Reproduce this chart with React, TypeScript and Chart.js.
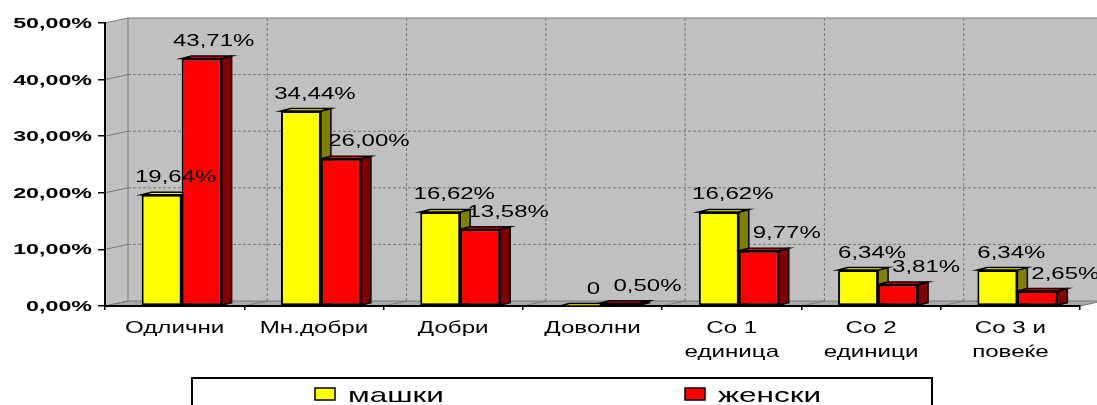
import React, { useEffect, useRef } from 'react';
import { Chart, registerables } from 'chart.js';

Chart.register(...registerables);

// ---------- data ----------
const CATEGORIES: string[][] = [
  ['Одлични'],
  ['Мн.добри'],
  ['Добри'],
  ['Доволни'],
  ['Со 1', 'единица'],
  ['Со 2', 'единици'],
  ['Со 3 и', 'повеќе'],
];
const SERIES_NAMES = ['машки', 'женски'];
const MALE = [19.64, 34.44, 16.62, 0, 16.62, 6.34, 6.34];
const FEMALE = [43.71, 26.0, 13.58, 0.5, 9.77, 3.81, 2.65];
const Y_MIN = 0;
const Y_MAX = 50;
const Y_STEP = 10;

// ---------- style ----------
const W = 1097;
const H = 405;
const FONT = '"Liberation Sans", Arial, Helvetica, sans-serif';
const WALL_DX = 23;
const WALL_DY = 5;
const BAR_DX = 10;
const BAR_DY = 2.5;
const GROUP_SHIFT = 7;
const C_WALL = '#C0C0C0';
const C_FLOOR = '#A8A8A8';
const C_GRID = '#7A7A7A';
const C_MALE = '#FFFF00';
const C_MALE_SIDE = '#808000';
const C_FEMALE = '#FF0000';
const C_FEMALE_SIDE = '#800000';

const fmtValue = (v: number) => (v === 0 ? '0' : v.toFixed(2).replace('.', ',') + '%');
const fmtAxis = (v: number) => v.toFixed(2).replace('.', ',') + '%';

function stretchText(
  ctx: CanvasRenderingContext2D,
  text: string,
  x: number,
  y: number,
  font: string,
  sx: number,
  align: CanvasTextAlign
) {
  ctx.save();
  ctx.font = font;
  ctx.fillStyle = '#000';
  ctx.textAlign = align;
  ctx.textBaseline = 'alphabetic';
  ctx.translate(x, y);
  ctx.scale(sx, 1);
  ctx.fillText(text, 0, 0);
  ctx.restore();
}

function poly(ctx: CanvasRenderingContext2D, pts: number[][], fill: string, stroke?: string, lw = 1) {
  ctx.beginPath();
  ctx.moveTo(pts[0][0], pts[0][1]);
  for (let i = 1; i < pts.length; i++) ctx.lineTo(pts[i][0], pts[i][1]);
  ctx.closePath();
  ctx.fillStyle = fill;
  ctx.fill();
  if (stroke) {
    ctx.strokeStyle = stroke;
    ctx.lineWidth = lw;
    ctx.stroke();
  }
}

function line(ctx: CanvasRenderingContext2D, x1: number, y1: number, x2: number, y2: number, dash: number[]) {
  ctx.beginPath();
  ctx.setLineDash(dash);
  ctx.moveTo(x1, y1);
  ctx.lineTo(x2, y2);
  ctx.stroke();
  ctx.setLineDash([]);
}

const threeD = {
  id: 'threeD',
  afterDatasetsUpdate(chart: any) {
    chart.data.datasets.forEach((_: any, i: number) => {
      chart.getDatasetMeta(i).data.forEach((el: any) => {
        el.x += GROUP_SHIFT;
      });
    });
  },
  beforeDraw(chart: any) {
    const ctx: CanvasRenderingContext2D = chart.ctx;
    const { left: L, right: R, top: T, bottom: B } = chart.chartArea;
    const ys = chart.scales.y;
    const xs = chart.scales.x;
    ctx.save();
    // side wall
    poly(ctx, [[L, T], [L + WALL_DX, T - WALL_DY], [L + WALL_DX, B - WALL_DY], [L, B]], C_WALL);
    // back wall
    poly(ctx, [[L + WALL_DX, T - WALL_DY], [R + WALL_DX, T - WALL_DY], [R + WALL_DX, B - WALL_DY], [L + WALL_DX, B - WALL_DY]], C_WALL);
    // floor
    poly(ctx, [[L, B], [R, B], [R + WALL_DX, B - WALL_DY], [L + WALL_DX, B - WALL_DY]], C_FLOOR);

    ctx.strokeStyle = C_GRID;
    ctx.lineWidth = 1;
    // horizontal grid lines
    ys.ticks.forEach((t: any) => {
      const py = ys.getPixelForValue(t.value);
      line(ctx, L, py, L + WALL_DX, py - WALL_DY, []);
      const solid = t.value === Y_MIN || t.value === Y_MAX;
      line(ctx, L + WALL_DX, py - WALL_DY, R + WALL_DX, py - WALL_DY, solid ? [] : [3, 2]);
    });
    // vertical grid lines (category edges)
    for (let k = 0; k <= CATEGORIES.length; k++) {
      const ex = xs.getPixelForValue(k - 0.5);
      line(ctx, ex + WALL_DX, T - WALL_DY, ex + WALL_DX, B - WALL_DY, k === 0 ? [] : [3, 2]);
      line(ctx, ex + WALL_DX, B - WALL_DY, ex, B, []);
    }
    ctx.restore();
  },
  beforeDatasetsDraw(chart: any) {
    const ctx: CanvasRenderingContext2D = chart.ctx;
    const fills = [
      [C_MALE, C_MALE_SIDE],
      [C_FEMALE, C_FEMALE_SIDE],
    ];
    ctx.save();
    ctx.lineJoin = 'miter';
    for (let j = 0; j < CATEGORIES.length; j++) {
      for (let i = 0; i < chart.data.datasets.length; i++) {
        const el = chart.getDatasetMeta(i).data[j];
        const { x, y, base, width } = el.getProps(['x', 'y', 'base', 'width'], true);
        const l = x - width / 2;
        const r = x + width / 2;
        // side face
        poly(ctx, [[r, y], [r + BAR_DX, y - BAR_DY], [r + BAR_DX, base - BAR_DY], [r, base]], fills[i][1], '#000', 1.5);
        // top face
        poly(ctx, [[l, y], [r, y], [r + BAR_DX, y - BAR_DY], [l + BAR_DX, y - BAR_DY]], fills[i][0], '#000', 1.5);
      }
    }
    ctx.restore();
  },
  afterDatasetsDraw(chart: any) {
    const ctx: CanvasRenderingContext2D = chart.ctx;
    for (let i = 0; i < chart.data.datasets.length; i++) {
      const values: number[] = chart.data.datasets[i].data;
      chart.getDatasetMeta(i).data.forEach((el: any, j: number) => {
        const { x, y } = el.getProps(['x', 'y'], true);
        // red labels sit centred only when the red bar clearly dominates its group
        const dx = i === 0 ? 14 : FEMALE[j] > MALE[j] + 5 ? 12 : 28;
        stretchText(ctx, fmtValue(values[j]), x + dx, y - 12.5, `16px ${FONT}`, 1.5, 'center');
      });
    }
  },
  afterDraw(chart: any) {
    const ctx: CanvasRenderingContext2D = chart.ctx;
    const { left: L, bottom: B } = chart.chartArea;
    const ys = chart.scales.y;
    const xs = chart.scales.x;
    // y tick labels
    ys.ticks.forEach((t: any) => {
      const py = ys.getPixelForValue(t.value);
      stretchText(ctx, fmtAxis(t.value), L - 13, py + 5, `bold 14px ${FONT}`, 1.66, 'right');
    });
    // x category labels
    CATEGORIES.forEach((lines, i) => {
      const cx = xs.getPixelForValue(i);
      lines.forEach((s, k) => {
        stretchText(ctx, s, cx, B + 27 + k * 24, `17px ${FONT}`, 1.42, 'center');
      });
    });
    // legend
    const boxL = 192;
    const boxT = 378;
    const boxW = 740;
    ctx.save();
    ctx.fillStyle = '#FFF';
    ctx.fillRect(boxL, boxT, boxW, 40);
    ctx.strokeStyle = '#000';
    ctx.lineWidth = 2;
    ctx.strokeRect(boxL, boxT, boxW, 40);
    const colors = [C_MALE, C_FEMALE];
    SERIES_NAMES.forEach((name, i) => {
      const sx = boxL + i * (boxW / 2) + 123;
      ctx.fillStyle = colors[i];
      ctx.fillRect(sx, 388, 20, 12);
      ctx.lineWidth = 1.5;
      ctx.strokeRect(sx, 388, 20, 12);
      stretchText(ctx, name, sx + 33, 402, `21px ${FONT}`, 1.5, 'left');
    });
    ctx.restore();
  },
};

export default function App() {
  const ref = useRef<HTMLCanvasElement>(null);
  useEffect(() => {
    if (!ref.current) return;
    const chart = new Chart(ref.current, {
      type: 'bar',
      data: {
        labels: CATEGORIES.map((c) => c.join(' ')),
        datasets: [
          {
            label: SERIES_NAMES[0],
            data: MALE,
            backgroundColor: C_MALE,
            borderColor: '#000',
            borderWidth: 2,
            borderSkipped: false,
            categoryPercentage: 0.574,
            barPercentage: 1,
          },
          {
            label: SERIES_NAMES[1],
            data: FEMALE,
            backgroundColor: C_FEMALE,
            borderColor: '#000',
            borderWidth: 2,
            borderSkipped: false,
            categoryPercentage: 0.574,
            barPercentage: 1,
          },
        ],
      },
      options: {
        responsive: false,
        animation: false,
        devicePixelRatio: 1,
        events: [],
        layout: { padding: { top: 23, right: 17, left: 0, bottom: 0 } },
        plugins: { legend: { display: false }, tooltip: { enabled: false } },
        scales: {
          x: {
            offset: true,
            ticks: { display: false },
            grid: { offset: true, drawOnChartArea: false, drawTicks: true, tickLength: 4, color: '#000', lineWidth: 1.5 },
            border: { display: true, color: '#000', width: 2 },
            afterFit: (s: any) => {
              s.height = 99;
            },
          },
          y: {
            min: Y_MIN,
            max: Y_MAX,
            ticks: { display: false, stepSize: Y_STEP },
            grid: { drawOnChartArea: false, drawTicks: true, tickLength: 7, color: '#000', lineWidth: 1.5 },
            border: { display: true, color: '#000', width: 2 },
            afterFit: (s: any) => {
              s.width = 105;
            },
          },
        },
      },
      plugins: [threeD],
    });
    return () => chart.destroy();
  }, []);
  return (
    <div style={{ position: 'absolute', left: 0, top: 0, width: W, height: H, background: '#fff' }}>
      <canvas ref={ref} width={W} height={H} style={{ width: W, height: H, display: 'block' }} />
    </div>
  );
}
